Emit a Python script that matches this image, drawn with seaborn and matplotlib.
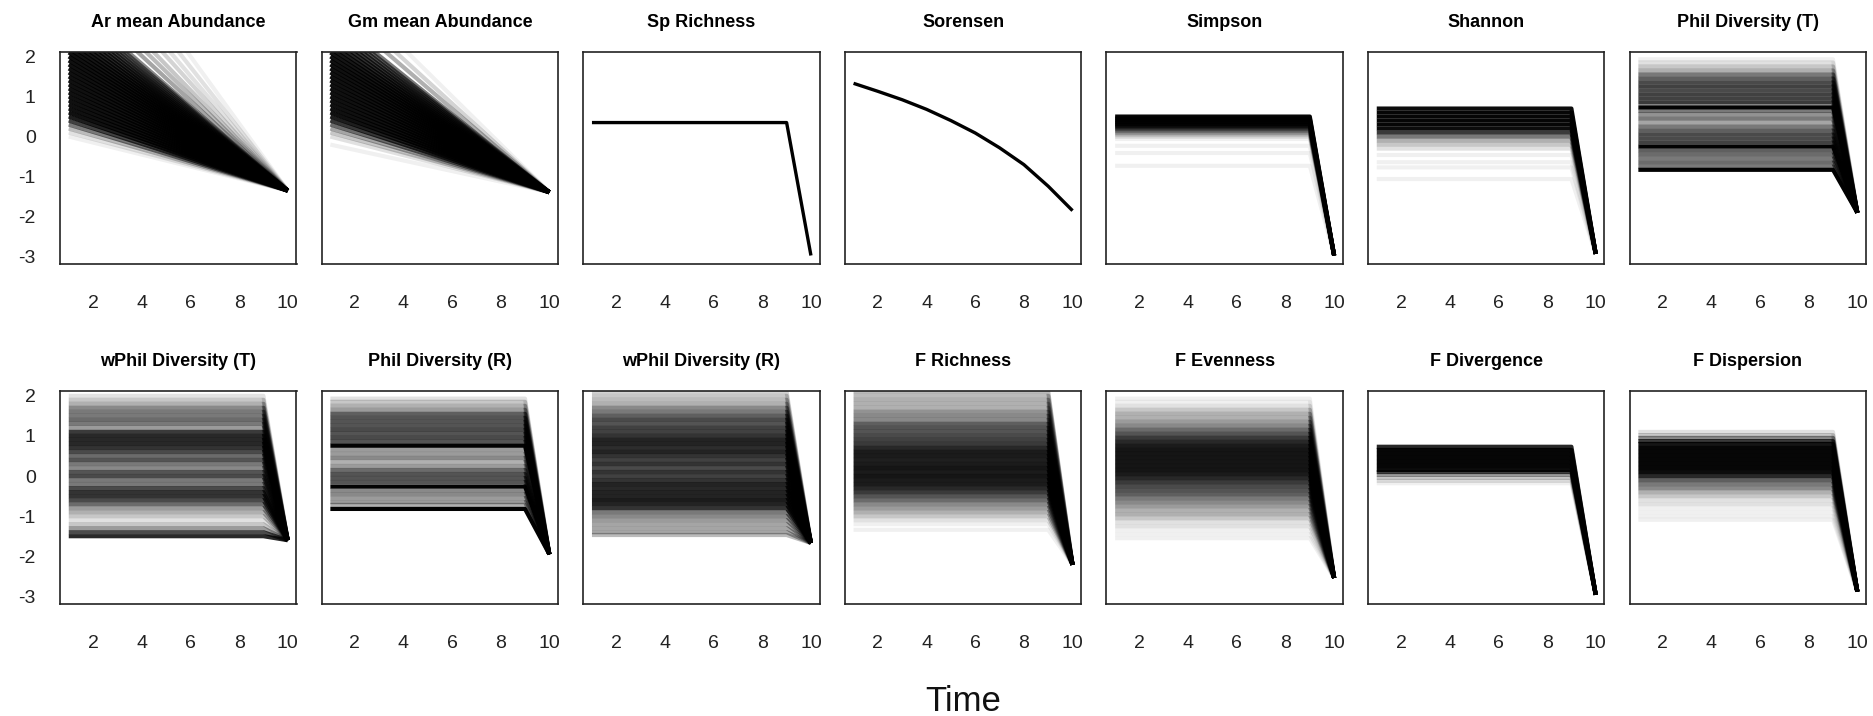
import numpy as np
import pandas as pd
import matplotlib
matplotlib.use("Agg")
import matplotlib.pyplot as plt
import seaborn as sns

# ---------------- data ----------------
TIME = [1, 2, 3, 4, 5, 6, 7, 8, 9, 10]
X_TICKS = [2, 4, 6, 8, 10]
Y_TICKS = [-3, -2, -1, 0, 1, 2]
TITLES = ["Ar mean Abundance", "Gm mean Abundance", "Sp Richness", "Sorensen",
          "Simpson", "Shannon", "Phil Diversity (T)",
          "wPhil Diversity (T)", "Phil Diversity (R)", "wPhil Diversity (R)",
          "F Richness", "F Evenness", "F Divergence", "F Dispersion"]

# fan panels: value at time 1 (start) -> common value at time 10; N = number of simulations at that start
AR_START = [6.2, 5.6, 5.1, 4.7, 4.3, 4.0, 3.7, 3.4, 3.3, 3.2, 3.1, 3.0, 2.9, 2.8, 2.7, 2.6, 2.5,
            2.4, 2.3, 2.2, 2.1, 2.0, 1.9, 1.8,
            1.7, 1.6, 1.5, 1.4, 1.3, 1.2, 1.1, 1.0, 0.9, 0.8, 0.7, 0.6, 0.5, 0.4, 0.3, 0.2, 0.1, 0.0]
AR_N = [1, 2, 2, 3, 4, 5, 7, 10, 12, 14, 17, 20, 23, 26, 29, 32, 35,
        38, 40, 42, 44, 45, 45, 45,
        45, 45, 45, 45, 45, 45, 45, 45, 45, 45, 45, 45, 35, 22, 12, 5, 2, 1]
AR_END = -1.35

GM_START = [4.0, 3.6, 3.3, 3.0, 2.9, 2.8, 2.7, 2.6, 2.5, 2.4, 2.3, 2.2, 2.1, 2.0, 1.9, 1.8,
            1.7, 1.6, 1.5, 1.4, 1.3, 1.2, 1.1, 1.0, 0.9, 0.8, 0.7, 0.6, 0.5, 0.4, 0.3, 0.2,
            0.1, 0.0, -0.2]
GM_N = [1, 3, 6, 12, 15, 18, 21, 24, 27, 30, 34, 38, 40, 42, 45, 45,
        45, 45, 45, 45, 45, 45, 45, 45, 45, 45, 45, 45, 35, 25, 14, 7,
        4, 2, 1]
GM_END = -1.39

# single-trajectory panels
SP_RICHNESS = [0.35, 0.35, 0.35, 0.35, 0.35, 0.35, 0.35, 0.35, 0.35, -2.97]
SORENSEN = [1.33, 1.13, 0.92, 0.68, 0.40, 0.09, -0.28, -0.70, -1.24, -1.85]

# flat-band panels: level held from time 1 to 9, then all drop to END at time 10
SIMPSON_LEVEL = [0.50, 0.45, 0.40, 0.35, 0.30, 0.25, 0.20, 0.15, 0.10, 0.05, 0.0, -0.06, -0.23, -0.41, -0.73]
SIMPSON_N = [60, 60, 60, 60, 50, 30, 16, 10, 6, 4, 2, 1, 1, 1, 1]
SIMPSON_END = -2.97

SHANNON_LEVEL = [0.70, 0.60, 0.50, 0.40, 0.30, 0.20, 0.10, 0.0, -0.1, -0.2, -0.3, -0.46, -0.64, -0.77, -1.06]
SHANNON_N = [50, 60, 60, 60, 60, 50, 24, 12, 6, 4, 2, 1, 1, 1, 1]
SHANNON_END = -2.93

PHILT_LEVEL = [1.93, 1.85, 1.75, 1.65, 1.55, 1.45, 1.35, 1.25, 1.15, 1.05, 0.95, 0.85, 0.73,
               0.64, 0.55, 0.45, 0.35, 0.25, 0.15, 0.05, -0.05, -0.15, -0.25,
               -0.35, -0.45, -0.55, -0.65, -0.75, -0.83]
PHILT_N = [1, 2, 4, 6, 12, 16, 20, 22, 20, 22, 22, 24, 80,
           12, 9, 12, 7, 12, 16, 20, 20, 22, 80,
           16, 14, 12, 14, 12, 80]
PHILT_END = -1.90

WPHILT_LEVEL = [2.0, 1.9, 1.8, 1.7, 1.6, 1.5, 1.4, 1.3, 1.2, 1.1, 1.0, 0.9, 0.8, 0.7, 0.6, 0.5,
                0.4, 0.3, 0.2, 0.1, 0.0, -0.1, -0.2, -0.3, -0.4, -0.5, -0.6, -0.7, -0.8,
                -0.9, -1.0, -1.1, -1.2, -1.3, -1.4, -1.5]
WPHILT_N = [2, 4, 6, 10, 12, 12, 14, 12, 8, 24, 30, 30, 30, 26, 20, 14,
            18, 12, 10, 18, 20, 12, 12, 20, 26, 26, 20, 14, 8,
            6, 4, 2, 4, 8, 20, 30]
WPHILT_END = -1.60

PHILR_LEVEL = [1.93, 1.85, 1.75, 1.65, 1.55, 1.45, 1.35, 1.25, 1.15, 1.05, 0.95, 0.85, 0.755,
               0.65, 0.55, 0.45, 0.35, 0.25, 0.15, 0.05, -0.05, -0.15, -0.26,
               -0.35, -0.45, -0.55, -0.65, -0.72, -0.82]
PHILR_N = [2, 4, 6, 8, 16, 18, 18, 18, 20, 18, 20, 18, 80,
           8, 8, 10, 6, 8, 14, 18, 18, 18, 80,
           10, 10, 8, 8, 6, 80]
PHILR_END = -1.95

WPHILR_LEVEL = [2.1, 2.0, 1.9, 1.8, 1.7, 1.6, 1.5, 1.4, 1.3, 1.2, 1.1, 1.0, 0.9, 0.8, 0.7, 0.6,
                0.5, 0.4, 0.3, 0.2, 0.1, 0.0, -0.1, -0.2, -0.3, -0.4, -0.5, -0.6, -0.7, -0.8,
                -0.9, -1.0, -1.1, -1.2, -1.3, -1.4, -1.47]
WPHILR_N = [3, 4, 5, 6, 10, 12, 16, 20, 18, 22, 22, 26, 32, 32, 28, 32,
            26, 22, 26, 20, 26, 22, 26, 32, 30, 32, 32, 36, 32, 26,
            12, 10, 8, 7, 7, 7, 5]
WPHILR_END = -1.67

FRICH_LEVEL = [2.1, 2.0, 1.9, 1.8, 1.7, 1.6, 1.5, 1.4, 1.3, 1.2, 1.1, 1.0, 0.9, 0.8, 0.7, 0.6,
               0.5, 0.4, 0.3, 0.2, 0.1, 0.0, -0.1, -0.2, -0.3, -0.4, -0.5, -0.6, -0.7, -0.8,
               -0.9, -1.0, -1.1, -1.2, -1.34]
FRICH_N = [5, 5, 6, 6, 6, 9, 10, 10, 16, 18, 18, 20, 22, 24, 30, 36,
           36, 34, 36, 40, 36, 40, 36, 36, 30, 24, 18, 14, 10, 8,
           6, 4, 2, 1, 1]
FRICH_END = -2.21

FEVEN_LEVEL = [1.93, 1.85, 1.75, 1.65, 1.55, 1.45, 1.35, 1.25, 1.15, 1.05, 0.95, 0.85, 0.75, 0.65,
               0.55, 0.45, 0.35, 0.25, 0.15, 0.05, -0.05, -0.15, -0.25, -0.35, -0.45, -0.55,
               -0.65, -0.75, -0.85, -0.95, -1.05, -1.15, -1.25, -1.35, -1.45, -1.55]
FEVEN_N = [1, 1, 2, 4, 6, 6, 8, 10, 14, 18, 24, 30, 36, 40,
           40, 40, 40, 40, 40, 36, 30, 24, 20, 18, 16, 12,
           10, 8, 6, 6, 4, 2, 2, 1, 1, 1]
FEVEN_END = -2.54

FDIV_LEVEL = [0.73, 0.65, 0.55, 0.45, 0.35, 0.25, 0.15, 0.10, 0.03, -0.05, -0.12, -0.18]
FDIV_N = [30, 60, 60, 60, 60, 60, 50, 20, 8, 4, 2, 1]
FDIV_END = -2.96

FDISP_LEVEL = [1.10, 1.02, 0.95, 0.87, 0.8, 0.7, 0.6, 0.5, 0.4, 0.3, 0.2, 0.1, 0.0, -0.1, -0.2,
               -0.3, -0.4, -0.5, -0.6, -0.7, -0.8, -0.9, -1.0, -1.09]
FDISP_N = [2, 4, 10, 24, 40, 60, 60, 60, 60, 60, 60, 50, 30, 16, 12,
           10, 6, 4, 2, 2, 1, 1, 1, 1]
FDISP_END = -2.88

PANELS = [
    ("fan", AR_START, AR_N, AR_END),
    ("fan", GM_START, GM_N, GM_END),
    ("single", SP_RICHNESS, None, None),
    ("single", SORENSEN, None, None),
    ("flat", SIMPSON_LEVEL, SIMPSON_N, SIMPSON_END),
    ("flat", SHANNON_LEVEL, SHANNON_N, SHANNON_END),
    ("flat", PHILT_LEVEL, PHILT_N, PHILT_END),
    ("flat", WPHILT_LEVEL, WPHILT_N, WPHILT_END),
    ("flat", PHILR_LEVEL, PHILR_N, PHILR_END),
    ("flat", WPHILR_LEVEL, WPHILR_N, WPHILR_END),
    ("flat", FRICH_LEVEL, FRICH_N, FRICH_END),
    ("flat", FEVEN_LEVEL, FEVEN_N, FEVEN_END),
    ("flat", FDIV_LEVEL, FDIV_N, FDIV_END),
    ("flat", FDISP_LEVEL, FDISP_N, FDISP_END),
]

# ---------------- style ----------------
sns.set_style("white")
plt.rcParams["font.family"] = ["Liberation Sans", "DejaVu Sans"]

W, H = 1874, 716
fig = plt.figure(figsize=(W / 100, H / 100), dpi=100)

P_ONE = 0.06      # opacity of a single simulation line
LW = 3.0
INK = "#222222"

def long_frame(kind, values, counts, end):
    rows = []
    for i, (v, n) in enumerate(zip(values, counts)):
        if kind == "fan":
            pts = [(TIME[0], v), (TIME[-1], end)]
        else:
            pts = [(t, v) for t in TIME[:-1]] + [(TIME[-1], end)]
        for t, y in pts:
            rows.append((i, t, y, n))
    return pd.DataFrame(rows, columns=["sim", "time", "value", "n"])

col_left = [60 + i * 261.6 for i in range(7)]
panel_w = 236.5
rows_px = [(51.7, 264.3), (391.0, 604.0)]

for k, (title, spec) in enumerate(zip(TITLES, PANELS)):
    r, c = divmod(k, 7)
    top, bot = rows_px[r]
    ax = fig.add_axes([col_left[c] / W, 1 - bot / H, panel_w / W, (bot - top) / H])
    kind, values, counts, end = spec
    if kind == "single":
        df = pd.DataFrame({"time": TIME, "value": values})
        sns.lineplot(data=df, x="time", y="value", color="black", lw=2.4, ax=ax,
                     legend=False, solid_capstyle="butt")
    else:
        df = long_frame(kind, values, counts, end)
        for n, sub in sorted(df.groupby("n"), key=lambda g: g[0]):
            a = 1 - (1 - P_ONE) ** n
            sns.lineplot(data=sub, x="time", y="value", units="sim", estimator=None,
                         color="black", alpha=a, lw=LW, ax=ax, legend=False,
                         solid_capstyle="butt")
    ax.set_xlim(0.64, 10.36)
    ax.set_ylim(-3.19, 2.12)
    ax.set_xlabel("")
    ax.set_ylabel("")
    ax.set_xticks(X_TICKS)
    ax.set_xticklabels([str(t) for t in X_TICKS])
    if c == 0:
        ax.set_yticks(Y_TICKS)
        ax.set_yticklabels([str(t) for t in Y_TICKS])
    else:
        ax.set_yticks([])
    ax.tick_params(axis="x", direction="out", length=10, width=1.2, color=INK,
                   labelsize=14, labelcolor=INK, pad=12)
    ax.tick_params(axis="y", direction="out", length=8.5, width=1.2, color=INK,
                   labelsize=14, labelcolor=INK, pad=9)
    for s in ax.spines.values():
        s.set_color(INK)
        s.set_linewidth(1.2)
    ax.set_title(title, fontsize=13, fontweight="bold", pad=18, color="black")

fig.text(962.8 / W, 1 - 711 / H, "Time", ha="center", va="baseline", fontsize=25, color="#111111")

fig.savefig("out.png", dpi=100)
